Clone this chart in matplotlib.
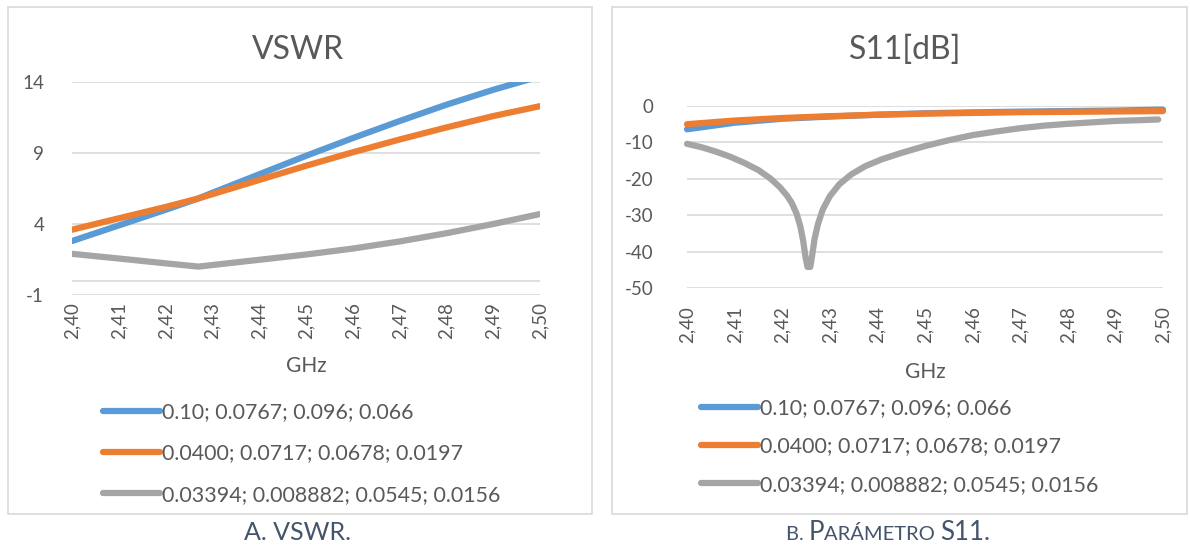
import matplotlib
matplotlib.use('Agg')
import matplotlib.pyplot as plt
from matplotlib.patches import Rectangle
from matplotlib.offsetbox import TextArea, HPacker, AnnotationBbox

plt.rcParams['font.family'] = ['Lato', 'DejaVu Sans']
plt.rcParams['axes.unicode_minus'] = False

# frequency axis (GHz)
freq_ticks = [2.40, 2.41, 2.42, 2.43, 2.44, 2.45, 2.46, 2.47, 2.48, 2.49, 2.50]
freq_labels = ['2,40', '2,41', '2,42', '2,43', '2,44', '2,45', '2,46', '2,47', '2,48', '2,49', '2,50']

series_names = ['0.10; 0.0767; 0.096; 0.066',
                '0.0400; 0.0717; 0.0678; 0.0197',
                '0.03394; 0.008882; 0.0545; 0.0156']
colors = ['#5B9BD5', '#ED7D31', '#A5A5A5']

# VSWR
vswr_freq = [2.40, 2.41, 2.42, 2.427, 2.43, 2.44, 2.45, 2.46, 2.47, 2.48, 2.49, 2.50]
vswr_1 = [2.8, 3.9, 5.0, 5.8, 6.2, 7.5, 8.8, 10.05, 11.25, 12.4, 13.45, 14.4]
vswr_2 = [3.6, 4.4, 5.2, 5.8, 6.1, 7.1, 8.1, 9.05, 9.95, 10.8, 11.6, 12.3]
vswr_3 = [1.9, 1.57, 1.23, 1.0, 1.11, 1.48, 1.85, 2.27, 2.77, 3.35, 4.0, 4.7]
vswr_ticks = [-1, 4, 9, 14]

# S11 [dB]
s11_freq = [2.40, 2.41, 2.42, 2.43, 2.44, 2.45, 2.46, 2.47, 2.48, 2.49, 2.50]
s11_1 = [-6.4, -4.6, -3.5, -2.9, -2.4, -2.0, -1.75, -1.55, -1.4, -1.25, -1.0]
s11_2 = [-5.0, -4.0, -3.3, -2.8, -2.4, -2.1, -1.9, -1.7, -1.6, -1.5, -1.4]
s11_freq_3 = [2.400, 2.403, 2.406, 2.409, 2.412, 2.415, 2.4175, 2.4195, 2.421,
              2.422, 2.423, 2.4238, 2.4244, 2.4249, 2.4253, 2.4259, 2.4263,
              2.4268, 2.4275, 2.4285, 2.430, 2.432, 2.4345, 2.4375, 2.441,
              2.445, 2.450, 2.455, 2.460, 2.465, 2.470, 2.475, 2.480, 2.485,
              2.490, 2.495, 2.499]
s11_3 = [-10.4, -11.3, -12.5, -13.9, -15.6, -17.6, -19.9, -22.3, -24.6,
         -26.6, -29.5, -33.0, -37.0, -41.5, -44.2, -44.2, -41.0,
         -36.5, -32.5, -28.5, -24.8, -21.5, -18.8, -16.5, -14.6,
         -12.9, -11.0, -9.4, -8.0, -7.0, -6.1, -5.4, -4.9, -4.5,
         -4.1, -3.9, -3.7]
s11_ticks = [0, -10, -20, -30, -40, -50]

W, H = 1190, 547
fig = plt.figure(figsize=(W / 100, H / 100), dpi=100)
text_c = '#595959'
grid_c = '#D9D9D9'


def px_axes(x0, x1, ytop, ybot):
    return fig.add_axes([x0 / W, 1 - ybot / H, (x1 - x0) / W, (ybot - ytop) / H])


def style(ax, yticks, ypad, xpad):
    for s in ax.spines.values():
        s.set_visible(False)
    ax.set_yticks(yticks)
    ax.yaxis.grid(True, color=grid_c, lw=1.2, zorder=0)
    ax.set_axisbelow(True)
    ax.set_xlim(2.40, 2.50)
    ax.set_xticks(freq_ticks)
    ax.set_xticklabels(freq_labels, rotation=90)
    ax.tick_params(length=0, colors=text_c, labelsize=13.5)
    ax.tick_params(axis='y', pad=ypad)
    ax.tick_params(axis='x', pad=xpad)


# panel frames
for x0, x1 in [(8, 592), (612, 1187)]:
    fig.add_artist(Rectangle((x0 / W, 1 - 514 / H), (x1 - x0) / W, 507 / H,
                             transform=fig.transFigure, fill=False,
                             edgecolor=grid_c, lw=1.2))

# left: VSWR
ax1 = px_axes(72, 540, 82, 295)
for y, c in zip([vswr_1, vswr_2, vswr_3], colors):
    ax1.plot(vswr_freq, y, color=c, lw=4.5, solid_capstyle='round', solid_joinstyle='round')
ax1.set_ylim(-1, 14)
style(ax1, vswr_ticks, 20, 5)
ax1.axhline(0, color=grid_c, lw=1.2, zorder=0)
ax1.set_xlabel('GHz', color=text_c, fontsize=15, labelpad=12)
fig.text(298 / W, 1 - 50 / H, 'VSWR', ha='center', va='center', fontsize=23, color=text_c)

# right: S11
ax2 = px_axes(687, 1163, 106, 288)
ax2.plot(s11_freq, s11_1, color=colors[0], lw=4.5, solid_capstyle='round', clip_on=False)
ax2.plot(s11_freq, s11_2, color=colors[1], lw=4.5, solid_capstyle='round', clip_on=False)
ax2.plot(s11_freq_3, s11_3, color=colors[2], lw=4.5, solid_capstyle='round',
         solid_joinstyle='round', clip_on=False)
ax2.set_ylim(-50, 0)
style(ax2, s11_ticks, 24, 13)
ax2.set_xlabel('GHz', color=text_c, fontsize=15, labelpad=14)
fig.text(905 / W, 1 - 50 / H, 'S11[dB]', ha='center', va='center', fontsize=23, color=text_c)

# legends
for ax, x0, ytop, spacing in [(ax1, 103, 402, 1.0), (ax2, 701, 398, 0.86)]:
    fig.legend(ax.get_lines()[:3], series_names, loc='upper left',
               bbox_to_anchor=(x0 / W, 1 - ytop / H), frameon=False,
               fontsize=15.4, labelcolor=text_c, handlelength=2.66,
               handletextpad=0.1, labelspacing=spacing,
               borderpad=0, borderaxespad=0)

# captions
cap_c = '#44546A'
fig.text(298 / W, 1 - 533 / H, 'A. VSWR.', ha='center', va='center', fontsize=18, color=cap_c)
parts = [('B. ', 14.5), ('P', 18.5), ('ARÁMETRO ', 14.5), ('S11.', 18.5)]
box = HPacker(children=[TextArea(t, textprops=dict(fontsize=s, color=cap_c)) for t, s in parts],
              align='baseline', pad=0, sep=0)
fig.add_artist(AnnotationBbox(box, (888 / W, 1 - 533 / H), xycoords='figure fraction',
                              frameon=False, box_alignment=(0.5, 0.5)))

fig.savefig('out.png', dpi=100)
